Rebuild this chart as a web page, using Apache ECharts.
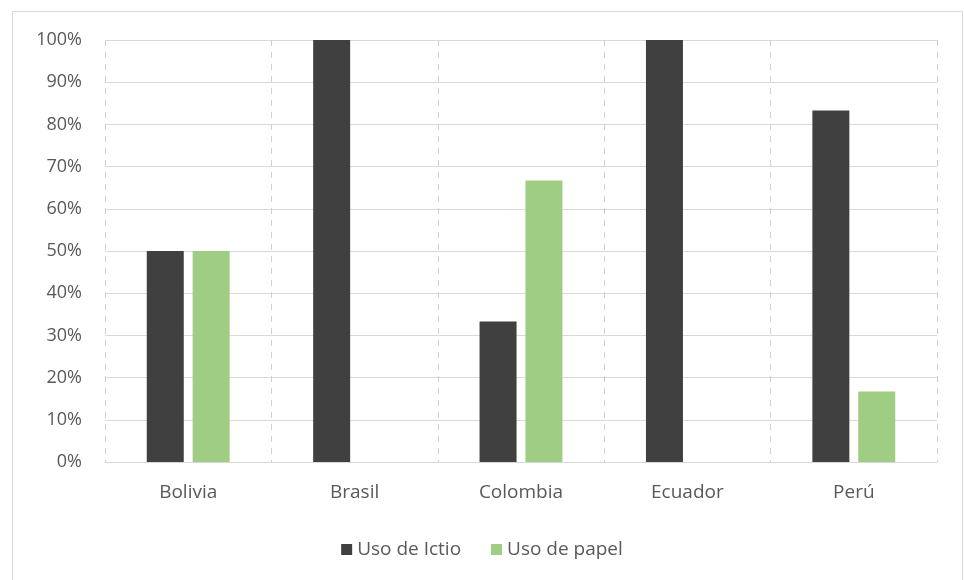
<!DOCTYPE html>
<html>
<head>
<meta charset="utf-8">
<script src="https://cdn.jsdelivr.net/npm/echarts@6/dist/echarts.min.js"></script>
<style>
html,body{margin:0;padding:0;background:#fff;}
#chart{width:964px;height:580px;}
</style>
</head>
<body>
<div id="chart"></div>
<script>
const categories = ['Bolivia', 'Brasil', 'Colombia', 'Ecuador', 'Perú'];
const usoIctio = [50, 100, 33.3, 100, 83.3];
const usoPapel = [50, 0, 66.7, 0, 16.7];
const seriesNames = ['Uso de Ictio', 'Uso de papel'];

const chart = echarts.init(document.getElementById('chart'));
const font = '"Open Sans", Lato, sans-serif';
chart.setOption({
  animation: false,
  backgroundColor: '#ffffff',
  graphic: [{
    type: 'rect',
    shape: {x: 12.5, y: 11.5, width: 950, height: 600},
    style: {fill: 'none', stroke: '#d9d9d9', lineWidth: 1},
    silent: true
  }],
  grid: {left: 105, right: 27, top: 40, bottom: 118, containLabel: false},
  legend: {
    data: seriesNames,
    top: 535,
    left: 'center',
    itemWidth: 11,
    itemHeight: 11,
    itemGap: 30,
    icon: 'rect',
    textStyle: {color: '#595959', fontSize: 19, fontFamily: font}
  },
  xAxis: {
    type: 'category',
    data: categories,
    axisLine: {show: true, lineStyle: {color: '#d9d9d9', width: 1}},
    axisTick: {show: false},
    axisLabel: {color: '#595959', fontSize: 19, fontFamily: font, margin: 21},
    splitLine: {show: true, lineStyle: {color: '#d0d0d0', type: [6, 6], width: 1}}
  },
  yAxis: {
    type: 'value',
    min: 0,
    max: 100,
    interval: 10,
    axisLine: {show: false},
    axisTick: {show: false},
    axisLabel: {color: '#595959', fontSize: 18, fontFamily: font, margin: 23, formatter: '{value}%'},
    splitLine: {show: true, lineStyle: {color: '#d9d9d9', width: 1}}
  },
  series: [
    {
      name: seriesNames[0],
      type: 'bar',
      data: usoIctio,
      barWidth: 37,
      barGap: '24%',
      itemStyle: {color: '#404040'}
    },
    {
      name: seriesNames[1],
      type: 'bar',
      data: usoPapel,
      barWidth: 37,
      itemStyle: {color: '#9fcd83'}
    }
  ]
});
</script>
</body>
</html>
